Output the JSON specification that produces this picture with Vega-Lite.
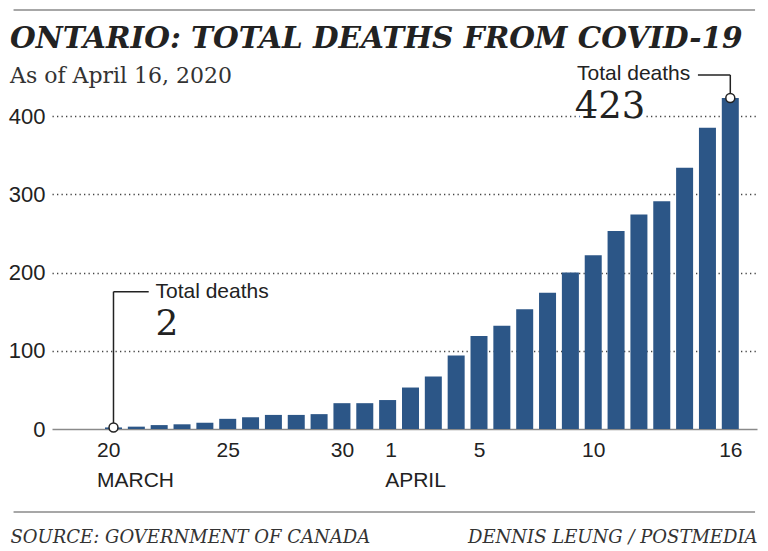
{
  "$schema": "https://vega.github.io/schema/vega-lite/v6.json",
  "width": 705,
  "height": 313,
  "autosize": {"type": "none"},
  "padding": {"left": 52, "top": 116, "right": 11, "bottom": 122},
  "background": "white",
  "title": {
    "text": "ONTARIO: TOTAL DEATHS FROM COVID-19",
    "subtitle": "As of April 16, 2020",
    "anchor": "start",
    "frame": "group",
    "dx": -42,
    "offset": -79,
    "font": "DejaVu Serif",
    "fontSize": 29.5,
    "fontWeight": "bold",
    "fontStyle": "italic",
    "color": "#222222",
    "subtitleFont": "DejaVu Serif",
    "subtitleFontSize": 22,
    "subtitleFontWeight": "normal",
    "subtitleColor": "#333333",
    "subtitlePadding": 12
  },
  "data": {
    "values": [
      {"date": "2020-03-20", "deaths": 2},
      {"date": "2020-03-21", "deaths": 3},
      {"date": "2020-03-22", "deaths": 5},
      {"date": "2020-03-23", "deaths": 6},
      {"date": "2020-03-24", "deaths": 8},
      {"date": "2020-03-25", "deaths": 13},
      {"date": "2020-03-26", "deaths": 15},
      {"date": "2020-03-27", "deaths": 18},
      {"date": "2020-03-28", "deaths": 18},
      {"date": "2020-03-29", "deaths": 19},
      {"date": "2020-03-30", "deaths": 33},
      {"date": "2020-03-31", "deaths": 33},
      {"date": "2020-04-01", "deaths": 37},
      {"date": "2020-04-02", "deaths": 53},
      {"date": "2020-04-03", "deaths": 67},
      {"date": "2020-04-04", "deaths": 94},
      {"date": "2020-04-05", "deaths": 119},
      {"date": "2020-04-06", "deaths": 132},
      {"date": "2020-04-07", "deaths": 153},
      {"date": "2020-04-08", "deaths": 174},
      {"date": "2020-04-09", "deaths": 200},
      {"date": "2020-04-10", "deaths": 222},
      {"date": "2020-04-11", "deaths": 253},
      {"date": "2020-04-12", "deaths": 274},
      {"date": "2020-04-13", "deaths": 291},
      {"date": "2020-04-14", "deaths": 334},
      {"date": "2020-04-15", "deaths": 385},
      {"date": "2020-04-16", "deaths": 423}
    ]
  },
  "encoding": {
    "x": {
      "field": "date",
      "type": "temporal",
      "scale": {
        "type": "utc",
        "domain": [
          {"year": 2020, "month": 3, "date": 17, "hours": 12, "minutes": 39, "utc": true},
          {"year": 2020, "month": 4, "date": 16, "hours": 22, "minutes": 48, "utc": true}
        ]
      },
      "axis": {
        "title": "SOURCE: GOVERNMENT OF CANADA",
        "titleX": -42,
        "titleY": 113,
        "titleAlign": "left",
        "titleAnchor": "start",
        "titleBaseline": "alphabetic",
        "titleFont": "DejaVu Serif",
        "titleFontStyle": "italic",
        "titleFontWeight": "normal",
        "titleFontSize": 18,
        "titleColor": "#333333",
        "values": [
          {"year": 2020, "month": 3, "date": 20, "utc": true},
          {"year": 2020, "month": 3, "date": 25, "utc": true},
          {"year": 2020, "month": 3, "date": 30, "utc": true},
          {"year": 2020, "month": 4, "date": 1, "utc": true},
          {"year": 2020, "month": 4, "date": 5, "utc": true},
          {"year": 2020, "month": 4, "date": 10, "utc": true},
          {"year": 2020, "month": 4, "date": 16, "utc": true}
        ],
        "labelExpr": "utcdate(datum.value) == 20 ? ['20', 'MARCH'] : (utcdate(datum.value) == 1 && utcmonth(datum.value) == 3) ? ['1', 'APRIL'] : '' + utcdate(datum.value)",
        "labelAlign": {"condition": {"test": "utcdate(datum.value) == 20 || (utcdate(datum.value) == 1 && utcmonth(datum.value) == 3)", "value": "left"}, "value": "center"},
        "labelOffset": {"condition": [{"test": "utcdate(datum.value) == 20", "value": -17}, {"test": "utcdate(datum.value) == 1 && utcmonth(datum.value) == 3", "value": -3}], "value": 0},
        "labelFont": "Liberation Sans",
        "labelFontSize": 21,
        "labelColor": "#222222",
        "labelPadding": 10,
        "labelLineHeight": 30,
        "labelBaseline": "top",
        "labelFlush": false,
        "labelOverlap": false,
        "ticks": false,
        "grid": false,
        "domain": true,
        "domainColor": "#8a8a8a",
        "domainWidth": 1.5
      }
    },
    "y": {
      "field": "deaths",
      "type": "quantitative",
      "scale": {"domain": [0, 400], "nice": false},
      "axis": {
        "title": "DENNIS LEUNG / POSTMEDIA",
        "titleAngle": 0,
        "titleX": 705,
        "titleY": 426,
        "titleAlign": "right",
        "titleAnchor": "end",
        "titleBaseline": "alphabetic",
        "titleFont": "DejaVu Serif",
        "titleFontStyle": "italic",
        "titleFontWeight": "normal",
        "titleFontSize": 18,
        "titleColor": "#333333",
        "values": [0, 100, 200, 300, 400],
        "labelFont": "Liberation Sans",
        "labelFontSize": 22,
        "labelColor": "#222222",
        "labelPadding": 7,
        "ticks": false,
        "domain": false,
        "grid": true,
        "gridColor": "#444444",
        "gridWidth": 1.3,
        "gridDash": [1.3, 3.2],
        "gridOpacity": {"condition": {"test": "datum.value === 0", "value": 0}, "value": 1}
      }
    }
  },
  "layer": [
    {
      "transform": [{"filter": "datum.deaths == 423"}],
      "mark": {"type": "rule", "color": "#8a8a8a", "strokeWidth": 1.5},
      "encoding": {
        "x": {"datum": {"year": 2020, "month": 3, "date": 15, "hours": 15, "utc": true}, "type": "temporal"},
        "x2": {"datum": {"year": 2020, "month": 4, "date": 17, "hours": 2, "utc": true}},
        "y": {"datum": 535.5, "type": "quantitative"}
      }
    },
    {
      "transform": [{"filter": "datum.deaths == 423"}],
      "mark": {"type": "rule", "color": "#8a8a8a", "strokeWidth": 1.5},
      "encoding": {
        "x": {"datum": {"year": 2020, "month": 3, "date": 15, "hours": 15, "utc": true}, "type": "temporal"},
        "x2": {"datum": {"year": 2020, "month": 4, "date": 17, "hours": 2, "utc": true}},
        "y": {"datum": -106, "type": "quantitative"}
      }
    },
    {
      "mark": {"type": "bar", "color": "#2c5687", "width": 17}
    },
    {
      "transform": [{"filter": "datum.deaths == 2"}],
      "layer": [
        {
          "mark": {"type": "rule", "color": "#222222", "strokeWidth": 1.5},
          "encoding": {"y2": {"datum": 175.5}}
        },
        {
          "mark": {"type": "rule", "color": "#222222", "strokeWidth": 1.5},
          "encoding": {
            "x2": {"datum": {"year": 2020, "month": 3, "date": 21, "hours": 13, "utc": true}},
            "y": {"datum": 175.5}
          }
        },
        {
          "mark": {"type": "text", "align": "left", "baseline": "alphabetic", "dx": 42, "dy": 6, "font": "Liberation Sans", "fontSize": 21, "color": "#222222"},
          "encoding": {"y": {"datum": 175.5}, "text": {"value": "Total deaths"}}
        },
        {
          "mark": {"type": "text", "align": "left", "baseline": "alphabetic", "dx": 42, "dy": 43, "font": "DejaVu Serif", "fontSize": 36, "color": "#222222"},
          "encoding": {"y": {"datum": 175.5}, "text": {"field": "deaths", "type": "quantitative"}}
        },
        {
          "mark": {"type": "point", "shape": "circle", "filled": true, "fill": "white", "stroke": "#222222", "strokeWidth": 1.5, "size": 80, "opacity": 1}
        }
      ]
    },
    {
      "transform": [{"filter": "datum.deaths == 423"}],
      "layer": [
        {
          "mark": {"type": "rule", "color": "#222222", "strokeWidth": 1.5},
          "encoding": {"y2": {"datum": 452.4}}
        },
        {
          "mark": {"type": "rule", "color": "#222222", "strokeWidth": 1.5},
          "encoding": {
            "x2": {"datum": {"year": 2020, "month": 4, "date": 14, "hours": 14, "utc": true}},
            "y": {"datum": 452.4}
          }
        },
        {
          "mark": {"type": "text", "align": "right", "baseline": "alphabetic", "dx": -40, "dy": 5, "font": "Liberation Sans", "fontSize": 21, "color": "#222222"},
          "encoding": {"y": {"datum": 452.4}, "text": {"value": "Total deaths"}}
        },
        {
          "mark": {"type": "text", "align": "right", "baseline": "alphabetic", "dx": -85, "dy": 43, "font": "DejaVu Serif", "fontSize": 37, "color": "white", "stroke": "white", "strokeWidth": 7},
          "encoding": {"y": {"datum": 452.4}, "text": {"field": "deaths", "type": "quantitative"}}
        },
        {
          "mark": {"type": "text", "align": "right", "baseline": "alphabetic", "dx": -85, "dy": 43, "font": "DejaVu Serif", "fontSize": 37, "color": "#222222"},
          "encoding": {"y": {"datum": 452.4}, "text": {"field": "deaths", "type": "quantitative"}}
        },
        {
          "mark": {"type": "point", "shape": "circle", "filled": true, "fill": "white", "stroke": "#222222", "strokeWidth": 1.5, "size": 80, "opacity": 1}
        }
      ]
    }
  ],
  "config": {
    "view": {"stroke": null}
  }
}
